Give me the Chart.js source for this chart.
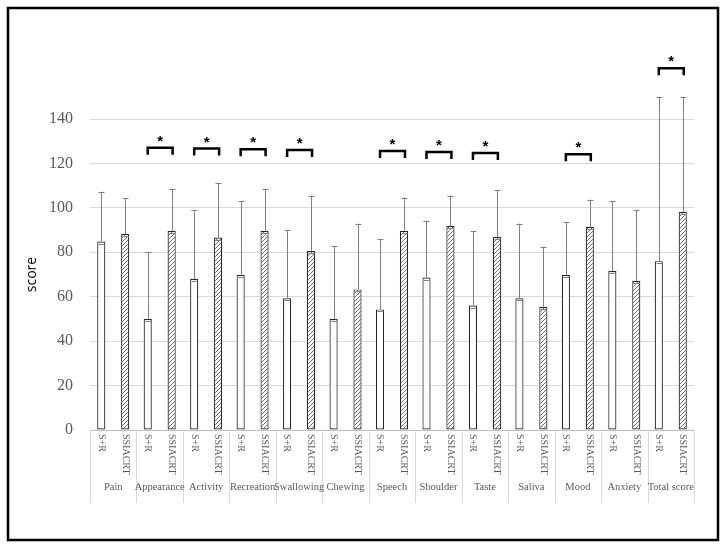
<!DOCTYPE html>
<html>
<head>
<meta charset="utf-8">
<script src="https://cdn.jsdelivr.net/npm/chart.js@4/dist/chart.umd.min.js"></script>
<style>
    html, body { margin: 0; padding: 0; background: #fff; }
    #wrap { width: 728px; height: 548px; }
</style>
</head>
<body>
<div id="wrap"><canvas id="chart" width="728" height="548"></canvas></div>
<script>
// chart values
const categories = ['Pain', 'Appearance', 'Activity', 'Recreation', 'Swallowing', 'Chewing',
    'Speech', 'Shoulder', 'Taste', 'Saliva', 'Mood', 'Anxiety', 'Total score'];
const groupNames = ['S+R', 'SSIACRT'];
const srMean = [84.8, 50, 68.1, 69.9, 59.3, 50, 54.3, 68.6, 56, 59.3, 69.8, 71.6, 76];
const srSD = [22.5, 30, 30.8, 33.1, 30.6, 32.7, 31.8, 25.6, 33.4, 33.6, 23.7, 31.5, 74];
const ssMean = [88.2, 89.7, 86.6, 89.7, 80.6, 63.3, 89.7, 91.9, 87, 55.5, 91.5, 67.2, 98.2];
const ssSD = [16.1, 18.7, 24.4, 18.7, 24.9, 29.6, 14.9, 13.6, 21, 27, 12.2, 31.7, 51.8];
const yTicks = [0, 20, 40, 60, 80, 100, 120, 140];
// significant pairs: category index and bracket height (score units)
const sigIndex = [1, 2, 3, 4, 6, 7, 8, 10, 12];
const sigLevel = [127.1, 126.7, 126.4, 126.1, 125.6, 125.2, 124.7, 124.1, 162.9];

const serif = '"Liberation Serif", "DejaVu Serif", serif';

function makeHatch() {
    const c = document.createElement('canvas');
    c.width = 4; c.height = 4;
    const g = c.getContext('2d');
    g.fillStyle = '#fff';
    g.fillRect(0, 0, 4, 4);
    g.strokeStyle = '#4a4a4a';
    g.lineWidth = 0.8;
    g.beginPath();
    g.moveTo(-1, 5); g.lineTo(5, -1);
    g.moveTo(-1, 1); g.lineTo(1, -1);
    g.moveTo(3, 5); g.lineTo(5, 3);
    g.stroke();
    return g.createPattern(c, 'repeat');
}

const framePlugin = {
    id: 'frame',
    beforeDraw(chart) {
        const ctx = chart.ctx;
        ctx.save();
        ctx.fillStyle = '#fff';
        ctx.fillRect(0, 0, chart.width, chart.height);
        ctx.restore();
    },
    afterDraw(chart) {
        const ctx = chart.ctx;
        ctx.save();
        ctx.strokeStyle = '#000';
        ctx.lineWidth = 2.5;
        ctx.strokeRect(8, 8, 710, 532);
        ctx.restore();
    }
};

// upper error bars
const errorPlugin = {
    id: 'errors',
    afterDatasetsDraw(chart) {
        const ctx = chart.ctx;
        const y = chart.scales.y;
        const sds = [srSD, ssSD];
        ctx.save();
        ctx.strokeStyle = '#808080';
        ctx.lineWidth = 1;
        chart.data.datasets.forEach((ds, i) => {
            chart.getDatasetMeta(i).data.forEach((bar, j) => {
                const x = Math.round(bar.x) + 0.5;
                const top = y.getPixelForValue(ds.data[j] + sds[i][j]);
                ctx.beginPath();
                ctx.moveTo(x, bar.y);
                ctx.lineTo(x, top);
                ctx.moveTo(x - 3, Math.round(top) + 0.5);
                ctx.lineTo(x + 3, Math.round(top) + 0.5);
                ctx.moveTo(x - 3, Math.round(bar.y) + 2.5);
                ctx.lineTo(x + 3, Math.round(bar.y) + 2.5);
                ctx.stroke();
            });
        });
        ctx.restore();
    }
};

// brackets with asterisks
const sigPlugin = {
    id: 'sig',
    afterDatasetsDraw(chart) {
        const ctx = chart.ctx;
        const y = chart.scales.y;
        const a = chart.getDatasetMeta(0).data;
        const b = chart.getDatasetMeta(1).data;
        ctx.save();
        ctx.strokeStyle = '#000';
        ctx.fillStyle = '#000';
        ctx.lineWidth = 2.5;
        ctx.font = 'bold 15px "Liberation Sans", sans-serif';
        ctx.textAlign = 'center';
        ctx.textBaseline = 'middle';
        sigIndex.forEach((k, n) => {
            const x1 = a[k].x;
            const x2 = b[k].x + 1;
            const yy = y.getPixelForValue(sigLevel[n]);
            ctx.beginPath();
            ctx.moveTo(x1, yy + 7);
            ctx.lineTo(x1, yy);
            ctx.lineTo(x2, yy);
            ctx.lineTo(x2, yy + 7);
            ctx.stroke();
            ctx.fillText('*', (x1 + x2) / 2, yy - 6);
        });
        ctx.restore();
    }
};

// two-level category axis under the plot
const axisLabelPlugin = {
    id: 'axisLabels',
    afterDraw(chart) {
        const ctx = chart.ctx;
        const x = chart.scales.x;
        const bottom = chart.chartArea.bottom;
        const step = x.getPixelForValue(1) - x.getPixelForValue(0);
        ctx.save();
        ctx.strokeStyle = '#d9d9d9';
        ctx.lineWidth = 1;
        for (let k = 0; k <= categories.length; k++) {
            const bx = Math.round(x.getPixelForValue(k) - step / 2) + 0.5;
            ctx.beginPath();
            ctx.moveTo(bx, bottom);
            ctx.lineTo(bx, bottom + 73);
            ctx.stroke();
        }
        ctx.fillStyle = '#595959';
        ctx.font = '10px ' + serif;
        chart.data.datasets.forEach((ds, i) => {
            chart.getDatasetMeta(i).data.forEach(bar => {
                ctx.save();
                ctx.translate(bar.x, bottom + 4);
                ctx.rotate(Math.PI / 2);
                ctx.textAlign = 'left';
                ctx.textBaseline = 'middle';
                ctx.fillText(groupNames[i], 0, 0);
                ctx.restore();
            });
        });
        ctx.font = '10.5px ' + serif;
        ctx.textAlign = 'center';
        ctx.textBaseline = 'middle';
        categories.forEach((c, k) => {
            ctx.fillText(c, x.getPixelForValue(k), bottom + 57);
        });
        ctx.restore();
    }
};

new Chart(document.getElementById('chart'), {
    type: 'bar',
    data: {
        labels: categories,
        datasets: [
            { label: groupNames[0], data: srMean, backgroundColor: '#fff', borderColor: '#262626' },
            { label: groupNames[1], data: ssMean, backgroundColor: makeHatch(), borderColor: '#262626' }
        ]
    },
    options: {
        responsive: false,
        animation: false,
        layout: { padding: { left: 0, right: 34, top: 119, bottom: 118 } },
        datasets: {
            bar: { borderWidth: 1.2, borderSkipped: false, categoryPercentage: 1.03, barPercentage: 0.34 }
        },
        scales: {
            x: { display: false },
            y: {
                min: 0,
                max: 140,
                afterFit(scale) { scale.width = 90; },
                afterBuildTicks(scale) { scale.ticks = yTicks.map(v => ({ value: v })); },
                border: { display: false },
                grid: {
                    drawTicks: false,
                    color: ctx => ctx.tick && ctx.tick.value === 0 ? '#bfbfbf' : '#d9d9d9'
                },
                ticks: { padding: 17, color: '#595959', font: { family: serif, size: 16 } },
                title: {
                    display: true,
                    text: 'score',
                    color: '#000',
                    padding: { top: 24 },
                    font: { family: '"Open Sans", sans-serif', size: 14 }
                }
            }
        },
        plugins: {
            legend: { display: false },
            tooltip: { enabled: false }
        }
    },
    plugins: [framePlugin, errorPlugin, sigPlugin, axisLabelPlugin]
});
</script>
</body>
</html>
